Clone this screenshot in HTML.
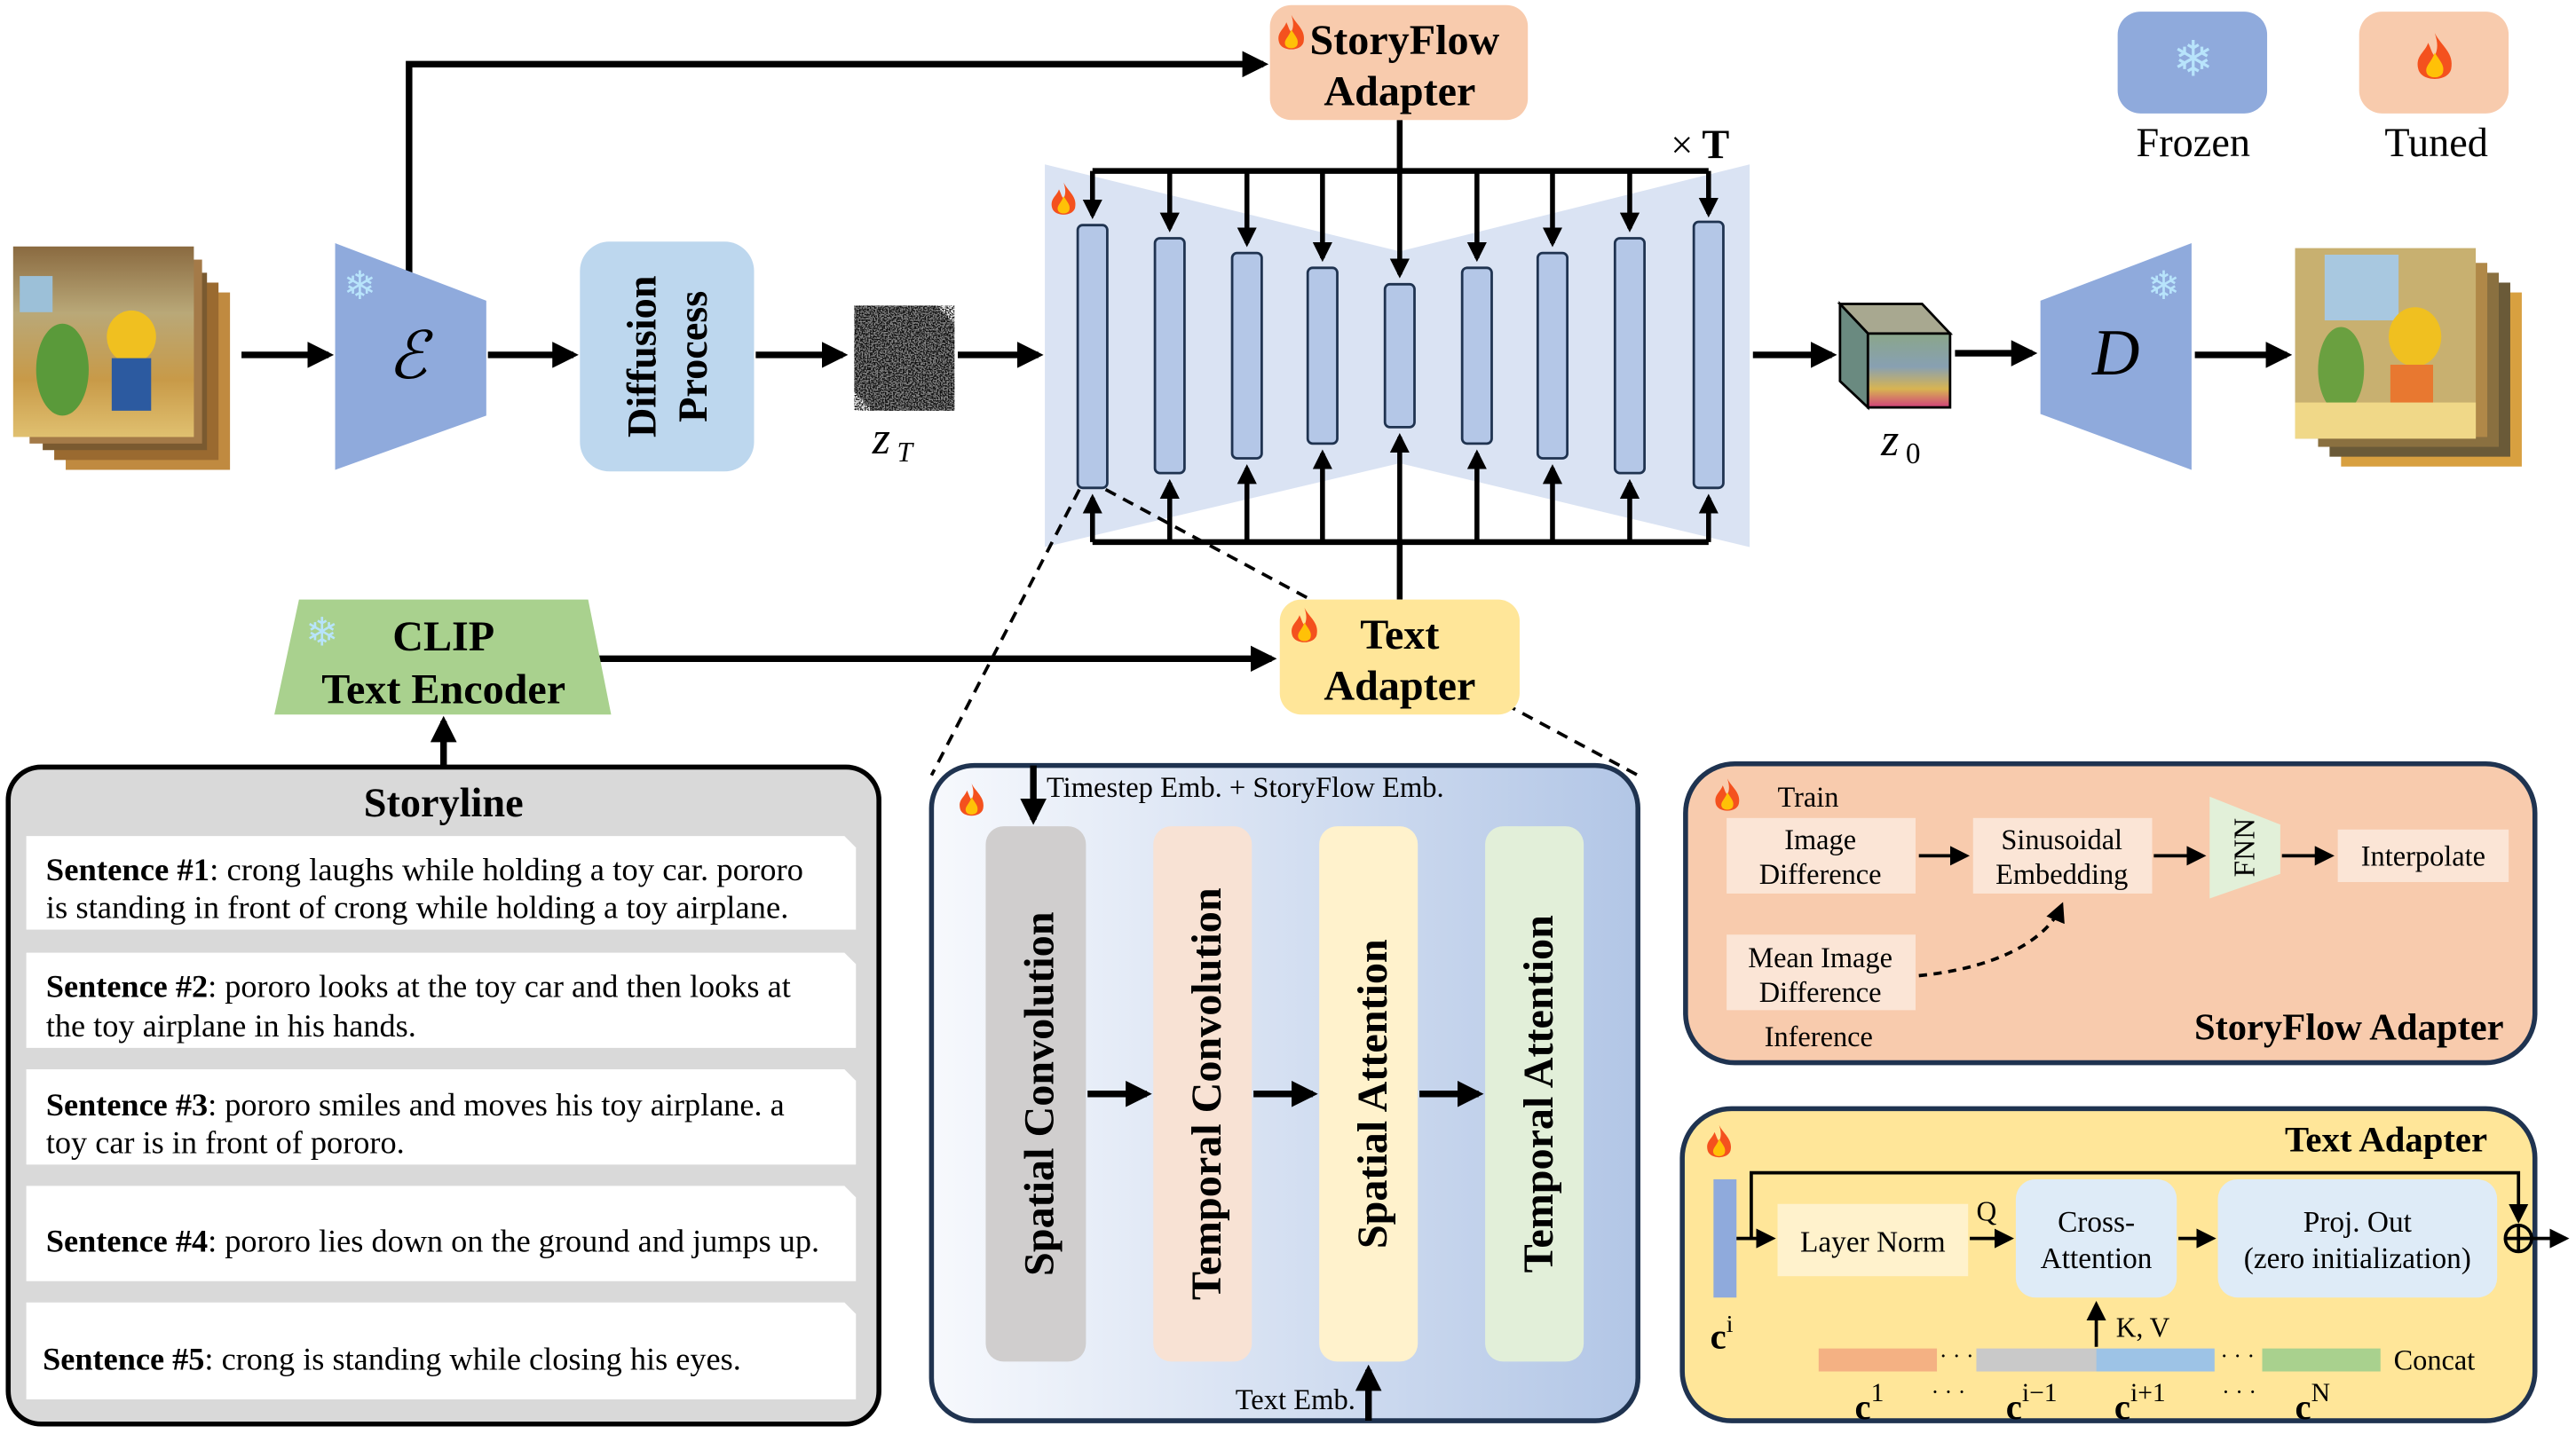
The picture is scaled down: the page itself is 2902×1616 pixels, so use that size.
<!DOCTYPE html>
<html><head><meta charset="utf-8"><style>
html,body{margin:0;padding:0;background:#fff;}
svg{display:block;}
text{font-family:"Liberation Serif",serif;fill:#000;}
.b{font-weight:bold;}
</style></head><body>
<svg width="2902" height="1616" viewBox="0 0 1568 873" xmlns="http://www.w3.org/2000/svg" font-family="Liberation Serif, serif">
<defs>
<marker id="ah" markerWidth="4" markerHeight="4" refX="3.2" refY="2" orient="auto" markerUnits="strokeWidth"><path d="M0,0 L4,2 L0,4 z" fill="#000"/></marker>
<marker id="as" markerWidth="6" markerHeight="6" refX="5" refY="3" orient="auto" markerUnits="strokeWidth"><path d="M0,0 L6,3 L0,6 z" fill="#000"/></marker>
<linearGradient id="mid" x1="0" x2="1" y1="0" y2="0"><stop offset="0" stop-color="#f7f9fd"/><stop offset="1" stop-color="#b2c6e6"/></linearGradient>
<linearGradient id="z0" x1="0" x2="0" y1="0" y2="1"><stop offset="0" stop-color="#8aa68a"/><stop offset="0.45" stop-color="#88a0b2"/><stop offset="0.75" stop-color="#d8b452"/><stop offset="1" stop-color="#d0407a"/></linearGradient>
<linearGradient id="img" x1="0" x2="0" y1="0" y2="1"><stop offset="0" stop-color="#8a6a40"/><stop offset="0.35" stop-color="#b9a878"/><stop offset="0.7" stop-color="#c89a48"/><stop offset="1" stop-color="#e0c070"/></linearGradient>
<filter id="noise" x="0" y="0" width="100%" height="100%"><feTurbulence type="fractalNoise" baseFrequency="1.2" numOctaves="1" seed="3"/><feColorMatrix type="matrix" values="0 0 0 0 0  0 0 0 0 0  0 0 0 0 0  3 3 3 0 -4"/><feComposite in2="SourceGraphic" operator="in"/></filter>
<g id="flame"><path d="M6,0 C8,4 12,6 11,11 C10,15 2,15 1,11 C0,7 3,6 4,3 C5,5 5,6 6,7 C7,5 7,3 6,0z" fill="#f4511e"/><path d="M6,6 C8,9 9,10 8.5,12 C8,14 4,14 3.5,12 C3,10 5,9 6,6z" fill="#ffc107"/></g>
</defs>

<!-- input images -->
<g>
<rect x="40" y="178" width="100" height="108" fill="#c08a40"/>
<rect x="33" y="172" width="100" height="108" fill="#9a6a30"/>
<rect x="26" y="166" width="100" height="108" fill="#7a5a30"/>
<rect x="18" y="158" width="105" height="112" fill="#a47a48"/>
<rect x="8" y="150" width="110" height="116" fill="url(#img)"/>
<rect x="12" y="168" width="20" height="22" fill="#9cc0d8"/>
<ellipse cx="38" cy="225" rx="16" ry="28" fill="#5a9a3a"/>
<ellipse cx="80" cy="205" rx="15" ry="16" fill="#f0c020"/>
<rect x="68" y="218" width="24" height="32" fill="#2c5aa0"/>
</g>
<g>
<rect x="1425" y="178" width="110" height="106" fill="#d8a040"/>
<rect x="1418" y="172" width="110" height="106" fill="#6a5a38"/>
<rect x="1411" y="166" width="110" height="106" fill="#8a7040"/>
<rect x="1404" y="160" width="110" height="106" fill="#b08848"/>
<rect x="1397" y="151" width="110" height="116" fill="#c8b070"/>
<rect x="1415" y="155" width="45" height="40" fill="#a8c8e0"/>
<ellipse cx="1425" cy="225" rx="14" ry="26" fill="#6aa040"/>
<ellipse cx="1470" cy="205" rx="16" ry="18" fill="#f0c020"/>
<rect x="1455" y="222" width="26" height="28" fill="#e87830"/>
<rect x="1397" y="245" width="110" height="22" fill="#f0d888"/>
</g>

<!-- arrows main row -->
<g stroke="#000" stroke-width="4" fill="none">
<line x1="147" y1="216" x2="200" y2="216" marker-end="url(#ah)"/>
<line x1="297" y1="216" x2="349" y2="216" marker-end="url(#ah)"/>
<line x1="460" y1="216" x2="513" y2="216" marker-end="url(#ah)"/>
<line x1="583" y1="216" x2="632" y2="216" marker-end="url(#ah)"/>
<line x1="1067" y1="216" x2="1115" y2="216" marker-end="url(#ah)"/>
<line x1="1190" y1="215" x2="1237" y2="215" marker-end="url(#ah)"/>
<line x1="1336" y1="216" x2="1392" y2="216" marker-end="url(#ah)"/>
<polyline points="249,180 249,39 769,39" marker-end="url(#ah)"/>
<line x1="364" y1="401" x2="774" y2="401" marker-end="url(#ah)"/>
<line x1="270" y1="466" x2="270" y2="439" marker-end="url(#ah)"/>
</g>

<!-- encoder -->
<polygon points="204,148 296,183 296,253 204,286" fill="#8faadc"/>
<text x="248" y="230" font-size="40" text-anchor="middle" font-style="italic">ℰ</text>
<text x="219" y="182" font-size="24" style="fill:#b8e4fb" text-anchor="middle">❄</text>

<!-- diffusion -->
<rect x="353" y="147" width="106" height="140" rx="18" fill="#bdd7ee"/>
<text transform="translate(399,217) rotate(-90)" font-size="25" class="b" text-anchor="middle">Diffusion</text>
<text transform="translate(430,217) rotate(-90)" font-size="25" class="b" text-anchor="middle">Process</text>

<!-- noise cube -->
<g>
<polygon points="520,186 570,186 581,197 581,250 531,250 520,238" fill="#888"/>
<rect x="520" y="186" width="61" height="64" fill="#fff" filter="url(#noise)" opacity="0.9"/>
</g>
<text x="531" y="276" font-size="28" font-style="italic">z</text><text x="546" y="281" font-size="17" font-style="italic">T</text>

<!-- unet -->
<polygon points="636,100 852,153 1065,100 1065,333 852,282 636,333" fill="#dae3f3"/>
<g stroke="#000" stroke-width="3.5" fill="none">
<polyline points="665,104 1040,104"/>
<polyline points="665,330 1040,330"/>
<line x1="852" y1="73" x2="852" y2="104"/>
<line x1="852" y1="330" x2="852" y2="365"/>
</g>
<g stroke="#000" stroke-width="3" fill="none">
<line x1="665" y1="104" x2="665" y2="131" marker-end="url(#ah)"/>
<line x1="712" y1="104" x2="712" y2="139" marker-end="url(#ah)"/>
<line x1="759" y1="104" x2="759" y2="148" marker-end="url(#ah)"/>
<line x1="805" y1="104" x2="805" y2="157" marker-end="url(#ah)"/>
<line x1="852" y1="104" x2="852" y2="167" marker-end="url(#ah)"/>
<line x1="899" y1="104" x2="899" y2="157" marker-end="url(#ah)"/>
<line x1="945" y1="104" x2="945" y2="148" marker-end="url(#ah)"/>
<line x1="992" y1="104" x2="992" y2="139" marker-end="url(#ah)"/>
<line x1="1040" y1="104" x2="1040" y2="130" marker-end="url(#ah)"/>
<line x1="665" y1="330" x2="665" y2="303" marker-end="url(#ah)"/>
<line x1="712" y1="330" x2="712" y2="294" marker-end="url(#ah)"/>
<line x1="759" y1="330" x2="759" y2="285" marker-end="url(#ah)"/>
<line x1="805" y1="330" x2="805" y2="276" marker-end="url(#ah)"/>
<line x1="852" y1="330" x2="852" y2="266" marker-end="url(#ah)"/>
<line x1="899" y1="330" x2="899" y2="276" marker-end="url(#ah)"/>
<line x1="945" y1="330" x2="945" y2="285" marker-end="url(#ah)"/>
<line x1="992" y1="330" x2="992" y2="294" marker-end="url(#ah)"/>
<line x1="1040" y1="330" x2="1040" y2="303" marker-end="url(#ah)"/>
</g>
<g fill="#b4c7e7" stroke="#1f3350" stroke-width="1.5">
<rect x="656" y="137" width="18" height="160" rx="3"/>
<rect x="703" y="145" width="18" height="143" rx="3"/>
<rect x="750" y="154" width="18" height="125" rx="3"/>
<rect x="796" y="163" width="18" height="107" rx="3"/>
<rect x="843" y="173" width="18" height="87" rx="3"/>
<rect x="890" y="163" width="18" height="107" rx="3"/>
<rect x="936" y="154" width="18" height="125" rx="3"/>
<rect x="983" y="145" width="18" height="143" rx="3"/>
<rect x="1031" y="135" width="18" height="162" rx="3"/>
</g>
<use href="#flame" transform="translate(639,111) scale(1.4)"/>
<text x="1017" y="96" font-size="24">×</text><text x="1036" y="96" font-size="25" class="b">T</text>

<!-- dashed lines -->
<g stroke="#000" stroke-width="2" stroke-dasharray="7,5" fill="none">
<line x1="657" y1="298" x2="567" y2="472"/>
<line x1="673" y1="298" x2="997" y2="472"/>
</g>

<!-- storyflow adapter -->
<rect x="773" y="3" width="157" height="70" rx="13" fill="#f8cbad"/>
<use href="#flame" transform="translate(777,9) scale(1.5)"/>
<text x="855" y="33" font-size="26" class="b" text-anchor="middle">StoryFlow</text>
<text x="852" y="64" font-size="26" class="b" text-anchor="middle">Adapter</text>

<!-- text adapter -->
<rect x="779" y="365" width="146" height="70" rx="13" fill="#ffe699"/>
<use href="#flame" transform="translate(785,370) scale(1.5)"/>
<text x="852" y="395" font-size="26" class="b" text-anchor="middle">Text</text>
<text x="852" y="426" font-size="26" class="b" text-anchor="middle">Adapter</text>

<!-- CLIP -->
<polygon points="182,365 358,365 372,435 167,435" fill="#a9d18e"/>
<text x="196" y="393" font-size="24" style="fill:#b8e4fb" text-anchor="middle">❄</text>
<text x="270" y="396" font-size="26" class="b" text-anchor="middle">CLIP</text>
<text x="270" y="428" font-size="26" class="b" text-anchor="middle">Text Encoder</text>

<!-- z0 cube -->
<polygon points="1120,185 1170,185 1187,203 1137,203" fill="#a8a890" stroke="#000" stroke-width="1.5"/>
<polygon points="1120,185 1137,203 1137,248 1120,232" fill="#6a8a80" stroke="#000" stroke-width="1.5"/>
<rect x="1137" y="203" width="50" height="45" fill="url(#z0)" stroke="#000" stroke-width="1.5"/>
<text x="1145" y="277" font-size="28" font-style="italic">z</text><text x="1160" y="282" font-size="18">0</text>

<!-- decoder -->
<polygon points="1242,183 1334,148 1334,286 1242,252" fill="#8faadc"/>
<text x="1288" y="228" font-size="40" font-style="italic" text-anchor="middle">D</text>
<text x="1317" y="182" font-size="24" style="fill:#b8e4fb" text-anchor="middle">❄</text>

<!-- legend -->
<rect x="1289" y="7" width="91" height="62" rx="14" fill="#8faadc"/>
<text x="1335" y="46" font-size="30" style="fill:#b8e4fb" text-anchor="middle">❄</text>
<text x="1335" y="95" font-size="25" text-anchor="middle">Frozen</text>
<rect x="1436" y="7" width="91" height="62" rx="14" fill="#f8cbad"/>
<use href="#flame" transform="translate(1470,20) scale(2)"/>
<text x="1483" y="95" font-size="25" text-anchor="middle">Tuned</text>

<!-- storyline -->
<rect x="5" y="467" width="530" height="400" rx="20" fill="#d9d9d9" stroke="#000" stroke-width="3"/>
<text x="270" y="497" font-size="25" class="b" text-anchor="middle">Storyline</text>
<g fill="#fff">
<polygon points="16,509 514,509 521,516 521,566 16,566"/>
<polygon points="16,580 514,580 521,587 521,638 16,638"/>
<polygon points="16,651 514,651 521,658 521,709 16,709"/>
<polygon points="16,722 514,722 521,729 521,780 16,780"/>
<polygon points="16,793 514,793 521,800 521,852 16,852"/>
</g>
<g font-size="19.6">
<text x="28" y="536" textLength="461" lengthAdjust="spacingAndGlyphs"><tspan class="b">Sentence #1</tspan>: crong laughs while holding a toy car. pororo</text>
<text x="28" y="559" textLength="452" lengthAdjust="spacingAndGlyphs">is standing in front of crong while holding a toy airplane.</text>
<text x="28" y="607"><tspan class="b">Sentence #2</tspan>: pororo looks at the toy car and then looks at</text>
<text x="28" y="631">the toy airplane in his hands.</text>
<text x="28" y="679"><tspan class="b">Sentence #3</tspan>: pororo smiles and moves his toy airplane. a</text>
<text x="28" y="702">toy car is in front of pororo.</text>
<text x="28" y="762"><tspan class="b">Sentence #4</tspan>: pororo lies down on the ground and jumps up.</text>
<text x="26" y="834"><tspan class="b">Sentence #5</tspan>: crong is standing while closing his eyes.</text>
</g>

<!-- middle block -->
<rect x="567" y="466" width="430" height="399" rx="26" fill="url(#mid)" stroke="#1f3350" stroke-width="3"/>
<use href="#flame" transform="translate(583,477) scale(1.4)"/>
<rect x="600" y="503" width="61" height="326" rx="11" fill="#d0cece"/>
<rect x="702" y="503" width="60" height="326" rx="11" fill="#f8e2d4"/>
<rect x="803" y="503" width="60" height="326" rx="11" fill="#fff2cc"/>
<rect x="904" y="503" width="60" height="326" rx="11" fill="#e2efd9"/>
<g font-size="26" class="b" text-anchor="middle">
<text transform="translate(641,666) rotate(-90)">Spatial Convolution</text>
<text transform="translate(743,666) rotate(-90)">Temporal Convolution</text>
<text transform="translate(844,666) rotate(-90)">Spatial Attention</text>
<text transform="translate(945,666) rotate(-90)">Temporal Attention</text>
</g>
<g stroke="#000" stroke-width="4" fill="none">
<line x1="662" y1="666" x2="698" y2="666" marker-end="url(#ah)"/>
<line x1="763" y1="666" x2="799" y2="666" marker-end="url(#ah)"/>
<line x1="864" y1="666" x2="900" y2="666" marker-end="url(#ah)"/>
<line x1="629" y1="466" x2="629" y2="499" marker-end="url(#ah)"/>
<line x1="833" y1="865" x2="833" y2="834" marker-end="url(#ah)"/>
</g>
<text x="637" y="485" font-size="17.6">Timestep Emb. + StoryFlow Emb.</text>
<text x="825" y="858" font-size="17.6" text-anchor="end">Text Emb.</text>

<!-- storyflow adapter detail -->
<rect x="1026" y="465" width="517" height="182" rx="30" fill="#f8cbad" stroke="#1f3350" stroke-width="3"/>
<use href="#flame" transform="translate(1043,474) scale(1.4)"/>
<text x="1082" y="491" font-size="17.5">Train</text>
<g fill="#fbe5d6">
<rect x="1051" y="498" width="115" height="46"/>
<rect x="1201" y="498" width="109" height="46"/>
<rect x="1051" y="569" width="115" height="46"/>
<rect x="1423" y="505" width="104" height="32"/>
</g>
<polygon points="1345,485 1388,502 1388,532 1345,547" fill="#e2f0d9"/>
<text transform="translate(1372,516) rotate(-90)" font-size="18" text-anchor="middle">FNN</text>
<g font-size="17.5" text-anchor="middle">
<text x="1108" y="517">Image</text><text x="1108" y="538">Difference</text>
<text x="1255" y="517">Sinusoidal</text><text x="1255" y="538">Embedding</text>
<text x="1108" y="589">Mean Image</text><text x="1108" y="610">Difference</text>
<text x="1475" y="527">Interpolate</text>
<text x="1107" y="637">Inference</text>
</g>
<text x="1524" y="633" font-size="23" class="b" text-anchor="end">StoryFlow Adapter</text>
<g stroke="#000" stroke-width="2" fill="none">
<line x1="1168" y1="521" x2="1197" y2="521" marker-end="url(#as)"/>
<line x1="1311" y1="521" x2="1341" y2="521" marker-end="url(#as)"/>
<line x1="1389" y1="521" x2="1419" y2="521" marker-end="url(#as)"/>
<path d="M1168,594 C1210,590 1245,575 1255,551" stroke-dasharray="5,4" marker-end="url(#as)"/>
</g>

<!-- text adapter detail -->
<rect x="1024" y="675" width="519" height="190" rx="30" fill="#ffe699" stroke="#1f3350" stroke-width="3"/>
<use href="#flame" transform="translate(1038,685) scale(1.4)"/>
<text x="1514" y="701" font-size="22" class="b" text-anchor="end">Text Adapter</text>
<rect x="1043" y="718" width="14" height="72" fill="#8faadc"/>
<rect x="1082" y="733" width="116" height="44" fill="#fff2cc"/>
<rect x="1227" y="718" width="98" height="72" rx="12" fill="#deebf7"/>
<rect x="1350" y="718" width="170" height="72" rx="12" fill="#deebf7"/>
<g font-size="18" text-anchor="middle">
<text x="1140" y="762">Layer Norm</text>
<text x="1276" y="750">Cross-</text><text x="1276" y="772">Attention</text>
<text x="1435" y="750">Proj. Out</text><text x="1435" y="772">(zero initialization)</text>
</g>
<text x="1203" y="743" font-size="17">Q</text>
<text x="1288" y="814" font-size="17">K, V</text>
<g stroke="#000" stroke-width="2" fill="none">
<line x1="1057" y1="754" x2="1079" y2="754" marker-end="url(#as)"/>
<line x1="1199" y1="754" x2="1224" y2="754" marker-end="url(#as)"/>
<line x1="1326" y1="754" x2="1347" y2="754" marker-end="url(#as)"/>
<polyline points="1066,754 1066,714 1533,714 1533,743" marker-end="url(#as)"/>
<line x1="1541" y1="754" x2="1562" y2="754" marker-end="url(#as)"/>
<line x1="1276" y1="820" x2="1276" y2="794" marker-end="url(#as)"/>
<circle cx="1533" cy="754" r="8"/>
<line x1="1525" y1="754" x2="1541" y2="754"/><line x1="1533" y1="746" x2="1533" y2="762"/>
</g>
<rect x="1107" y="821" width="72" height="14" fill="#f4b183"/>
<rect x="1203" y="821" width="73" height="14" fill="#c9c9c9"/>
<rect x="1276" y="821" width="72" height="14" fill="#9dc3e6"/>
<rect x="1377" y="821" width="72" height="14" fill="#a9d18e"/>
<g font-size="14" text-anchor="middle"><text x="1191" y="830">· · ·</text><text x="1362" y="830">· · ·</text><text x="1186" y="852">· · ·</text><text x="1363" y="852">· · ·</text></g>
<text x="1457" y="834" font-size="17.5">Concat</text>
<g font-size="22" class="b">
<text x="1041" y="821">c<tspan font-size="15" font-weight="normal" dy="-10">i</tspan></text>
<text x="1129" y="864">c<tspan font-size="16" font-weight="normal" dy="-11">1</tspan></text>
<text x="1221" y="864">c<tspan font-size="16" font-weight="normal" dy="-11">i−1</tspan></text>
<text x="1287" y="864">c<tspan font-size="16" font-weight="normal" dy="-11">i+1</tspan></text>
<text x="1397" y="864">c<tspan font-size="16" font-weight="normal" dy="-11">N</tspan></text>
</g>
</svg>
</body></html>
